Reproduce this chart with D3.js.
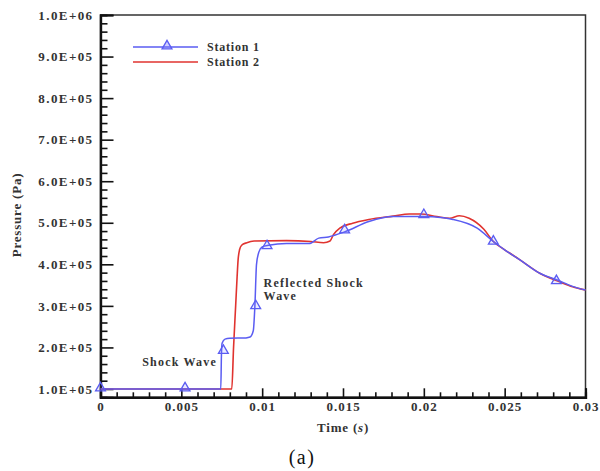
<!DOCTYPE html>
<html><head><meta charset="utf-8">
<script src="https://cdn.jsdelivr.net/npm/d3@7"></script>
<style>
body{margin:0;background:#fff;}
text{font-family:"Liberation Serif","Times New Roman",serif;}
</style></head>
<body><svg id="c" width="600" height="471"></svg>
<script>
// ---- data ----
const station1 = [
  [0,1.0e5],[0.00744,1.0e5],[0.00748,1.8e5],[0.00752,2.1e5],[0.0077,2.2e5],[0.008,2.22e5],
  [0.009,2.23e5],[0.00925,2.25e5],[0.00945,2.4e5],[0.00955,3.0e5],[0.00965,4.0e5],[0.0098,4.3e5],
  [0.01,4.42e5],[0.0104,4.46e5],[0.0115,4.5e5],[0.0129,4.5e5],[0.0135,4.63e5],[0.0141,4.66e5],
  [0.0151,4.78e5],[0.0166,5.03e5],[0.0181,5.15e5],[0.0199,5.15e5],[0.0212,5.12e5],[0.0218,5.08e5],
  [0.0233,4.87e5],[0.0243,4.55e5],[0.025,4.35e5],[0.0259,4.12e5],[0.0272,3.78e5],[0.0284,3.6e5],
  [0.0292,3.47e5],[0.03,3.38e5]
];
const station1Markers = [
  [0,1.0e5],[0.00523,1.0e5],[0.0076,1.9e5],[0.0096,2.98e5],[0.0103,4.42e5],
  [0.0151,4.8e5],[0.02,5.17e5],[0.0243,4.53e5],[0.0282,3.58e5]
];
const station2 = [
  [0,1.0e5],[0.00812,1.0e5],[0.00823,2.0e5],[0.00836,3.0e5],[0.00845,3.7e5],[0.00851,4.1e5],
  [0.0086,4.35e5],[0.00873,4.46e5],[0.00905,4.52e5],[0.0095,4.56e5],[0.0115,4.57e5],[0.013,4.55e5],
  [0.0138,4.52e5],[0.0142,4.56e5],[0.0144,4.71e5],[0.0148,4.87e5],[0.0156,4.99e5],[0.0166,5.08e5],
  [0.0181,5.16e5],[0.0191,5.21e5],[0.0198,5.21e5],[0.0208,5.15e5],[0.0216,5.11e5],[0.0222,5.17e5],
  [0.0228,5.11e5],[0.0237,4.85e5],[0.0243,4.55e5],[0.025,4.35e5],[0.0259,4.12e5],[0.0272,3.78e5],
  [0.0284,3.58e5],[0.0292,3.46e5],[0.03,3.38e5]
];
const xTicks = [0,0.005,0.01,0.015,0.02,0.025,0.03];
const xTickLabels = ["0","0.005","0.01","0.015","0.02","0.025","0.03"];
const yTicks = [1e5,2e5,3e5,4e5,5e5,6e5,7e5,8e5,9e5,1e6];
const yTickLabels = ["1.0E+05","2.0E+05","3.0E+05","4.0E+05","5.0E+05","6.0E+05","7.0E+05","8.0E+05","9.0E+05","1.0E+06"];
const seriesNames = ["Station 1","Station 2"];
const annotations = [
  {lines:["Shock Wave"], t:0.00258, p:1.56e5},
  {lines:["Reflected Shock","Wave"], t:0.01009, p:3.45e5}
];

// ---- chart ----
const svg = d3.select("#c");
const x = d3.scaleLinear().domain([0,0.03]).range([100.5,585.5]);
const y = d3.scaleLinear().domain([80000,1e6]).range([397.3,15]);
const blue = "#5a5cf2", red = "#e0332f";

const xMinor = d3.range(0,0.0301,0.001).filter(v=>Math.abs(v/0.005-Math.round(v/0.005))>1e-6);
const yMinor = d3.range(1e5,1e6,2e4).filter(v=>Math.abs(v/1e5-Math.round(v/1e5))>1e-6);

// frame
svg.append("rect").attr("x",x(0)).attr("y",y(1e6)).attr("width",x(0.03)-x(0)).attr("height",y(80000)-y(1e6))
  .attr("fill","none").attr("stroke","#333").attr("stroke-width",1.5);

// x axis
const gx = svg.append("g").attr("transform",`translate(0,${y(80000)})`);
gx.call(d3.axisBottom(x).tickValues(xMinor).tickSize(-5).tickFormat(""));
gx.append("g").call(d3.axisBottom(x).tickValues(xTicks).tickSize(-9).tickPadding(8)
  .tickFormat((d,i)=>xTickLabels[i]));
gx.selectAll(".domain").attr("stroke","#111").attr("stroke-width",2.2);
gx.selectAll(".tick line").attr("stroke","#111").attr("stroke-width",1.6);
gx.selectAll("text").attr("font-size",13).attr("font-weight","bold").attr("fill","#333")
  .attr("letter-spacing","1").attr("dy","0.45em");

// y axis
const gy = svg.append("g").attr("transform",`translate(${x(0)},0)`);
gy.call(d3.axisLeft(y).tickValues(yMinor).tickSize(-7).tickFormat(""));
gy.append("g").call(d3.axisLeft(y).tickValues(yTicks).tickSize(-13).tickPadding(7)
  .tickFormat((d,i)=>yTickLabels[i]));
gy.selectAll(".domain").attr("stroke","#111").attr("stroke-width",2.2);
gy.selectAll(".tick line").attr("stroke","#111").attr("stroke-width",1.6);
gy.selectAll("text").attr("font-size",13).attr("font-weight","bold").attr("fill","#333")
  .attr("letter-spacing","1.4");

// axis titles
svg.append("text").attr("x",343).attr("y",432).attr("text-anchor","middle")
  .attr("font-size",13).attr("font-weight","bold").attr("fill","#333").attr("letter-spacing","0.8")
  .html('Time (<tspan font-style="italic">s</tspan>)');
svg.append("text").attr("transform","translate(21,215) rotate(-90)").attr("text-anchor","middle")
  .attr("font-size",13).attr("font-weight","bold").attr("fill","#333").attr("letter-spacing","0.8")
  .text("Pressure (Pa)");
svg.append("text").attr("x",302).attr("y",464).attr("text-anchor","middle")
  .attr("font-size",20).attr("fill","#111").attr("letter-spacing","1.5").text("(a)");

// lines
const line = d3.line().x(d=>x(d[0])).y(d=>y(d[1])).curve(d3.curveMonotoneX);
svg.append("path").datum(station2).attr("d",line).attr("fill","none").attr("stroke",red).attr("stroke-width",1.6);
svg.append("path").datum(station1).attr("d",line).attr("fill","none").attr("stroke",blue).attr("stroke-width",1.5);

const tri = d3.symbol().type(d3.symbolTriangle).size(42);
svg.append("g").selectAll("path").data(station1Markers).join("path")
  .attr("d",tri).attr("transform",d=>`translate(${x(d[0])},${y(d[1])-1})`)
  .attr("fill","rgba(120,120,255,0.15)").attr("stroke",blue).attr("stroke-width",1.3);

// legend
const lg = svg.append("g");
lg.append("line").attr("x1",133).attr("x2",198).attr("y1",47).attr("y2",47).attr("stroke",blue).attr("stroke-width",1.5);
lg.append("path").attr("d",tri).attr("transform","translate(167,46)").attr("fill","rgba(120,120,255,0.35)").attr("stroke",blue).attr("stroke-width",1.3);
lg.append("line").attr("x1",133).attr("x2",198).attr("y1",62).attr("y2",62).attr("stroke",red).attr("stroke-width",1.5);
lg.selectAll("text").data(seriesNames).join("text").attr("x",207).attr("y",(d,i)=>51+i*15)
  .attr("font-size",12).attr("font-weight","bold").attr("fill","#333").attr("letter-spacing","0.8").text(d=>d);

// annotations
annotations.forEach(a=>{
  const t = svg.append("text").attr("x",x(a.t)).attr("y",y(a.p)).attr("font-size",12)
    .attr("font-weight","bold").attr("fill","#333").attr("letter-spacing","1.2");
  a.lines.forEach((l,i)=>t.append("tspan").attr("x",x(a.t)).attr("dy",i?13:0).text(l));
});
</script></body></html>
